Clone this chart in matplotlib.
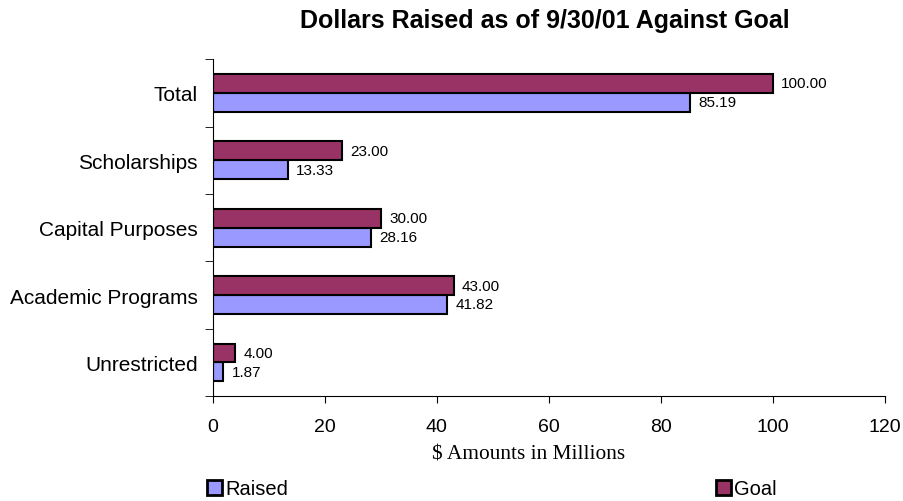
import matplotlib.pyplot as plt
import matplotlib.patches as patches
import numpy as np

categories = ['Unrestricted', 'Academic Programs', 'Capital Purposes', 'Scholarships', 'Total']
raised = [1.87, 41.82, 28.16, 13.33, 85.19]
goal = [4.00, 43.00, 30.00, 23.00, 100.00]
xticks = [0, 20, 40, 60, 80, 100, 120]

raised_color = '#9999FF'
goal_color = '#993366'

fig = plt.figure(figsize=(9.04, 5.02), dpi=100)
ax = fig.add_axes([0.2356, 0.209, 0.743, 0.671])

y = np.arange(len(categories))
h = 0.28
bars_r = ax.barh(y - h / 2, raised, height=h, color=raised_color, edgecolor='black', linewidth=1.5)
bars_g = ax.barh(y + h / 2, goal, height=h, color=goal_color, edgecolor='black', linewidth=1.5)

# value labels at bar ends
for bars, vals in [(bars_r, raised), (bars_g, goal)]:
    for b, v in zip(bars, vals):
        ax.annotate(f"{v:.2f}", (b.get_width(), b.get_y() + b.get_height() / 2),
                    xytext=(6, 0), textcoords='offset points', va='center', ha='left',
                    fontsize=11, family='Liberation Sans')

ax.set_xlim(0, 120)
ax.set_ylim(-0.5, len(categories) - 0.5)
ax.set_xticks(xticks)
ax.set_xticklabels([str(t) for t in xticks], fontsize=14, family='Liberation Sans')
ax.set_yticks(y)
ax.set_yticklabels(categories, fontsize=15, family='Liberation Sans')
ax.tick_params(axis='y', length=0, pad=11)
ax.tick_params(axis='x', length=5, pad=11)
# y boundary ticks between categories
ax.set_yticks(np.arange(-0.5, len(categories), 1), minor=True)
ax.tick_params(axis='y', which='minor', length=6)
for s in ['top', 'right']:
    ax.spines[s].set_visible(False)

ax.set_xlabel('$ Amounts in Millions', fontsize=15.4, family='Liberation Serif', labelpad=2)
ax.xaxis.set_label_coords(0.47, -0.145)
fig.text(0.603, 0.958, 'Dollars Raised as of 9/30/01 Against Goal', ha='center', va='center',
         fontsize=18, fontweight='bold', family='Liberation Sans')

h_r = patches.Patch(facecolor=raised_color, edgecolor='black', linewidth=2)
h_g = patches.Patch(facecolor=goal_color, edgecolor='black', linewidth=2)
kw = dict(frameon=False, handlelength=0.75, handleheight=0.75, handletextpad=0.15,
          prop={'family': 'Liberation Sans', 'size': 14.5})
fig.legend([h_r], ['Raised'], loc='center left', bbox_to_anchor=(0.209, 0.024), **kw)
fig.legend([h_g], ['Goal'], loc='center left', bbox_to_anchor=(0.772, 0.024), **kw)

fig.savefig('out.png', dpi=100)
